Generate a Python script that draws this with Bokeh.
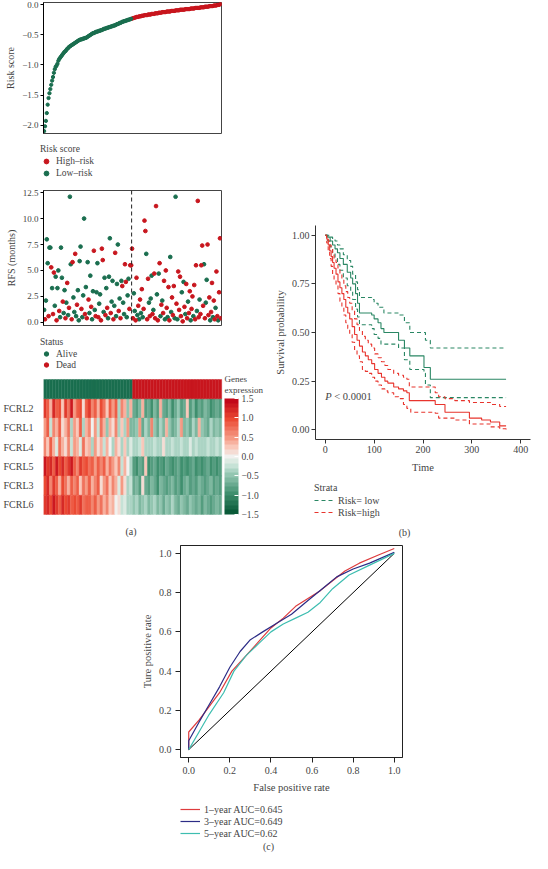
from bokeh.plotting import figure
from bokeh.layouts import column, row
from bokeh.models import (ColumnDataSource, Legend, LegendItem, Span, ColorBar, LinearColorMapper,
                          FixedTicker, Label, NumeralTickFormatter, Plot)
from bokeh.embed import file_html
from bokeh.resources import INLINE

FONT = "Liberation Serif"
NAN = float("nan")

# ---------------- data ----------------
risk_low = [-2.10, -2.02, -1.93, -1.80, -1.66, -1.55, -1.47, -1.40, -1.33, -1.26,
            -1.20, -1.13, -1.07, -1.03, -1.01, -0.98, -0.93, -0.90, -0.88, -0.86,
            -0.84, -0.82, -0.80, -0.78, -0.77, -0.75, -0.73, -0.72, -0.70, -0.69,
            -0.68, -0.67, -0.66, -0.65, -0.64, -0.63, -0.62, -0.61, -0.60, -0.59,
            -0.58, -0.58, -0.57, -0.57, -0.56, -0.56, -0.55, -0.55, -0.54, -0.53,
            -0.52, -0.51, -0.50, -0.49, -0.48, -0.47, -0.47, -0.46, -0.45, -0.45,
            -0.44, -0.44, -0.43, -0.43, -0.42, -0.42, -0.41, -0.40, -0.40, -0.39,
            -0.39, -0.38, -0.38, -0.37, -0.37, -0.36, -0.36, -0.35, -0.35, -0.34,
            -0.34, -0.33, -0.32, -0.32, -0.31, -0.30, -0.30, -0.29, -0.28, -0.28,
            -0.27, -0.27, -0.26, -0.26, -0.25, -0.25, -0.24, -0.24, -0.23]
risk_high = [-0.23, -0.22, -0.22, -0.21, -0.21, -0.20, -0.20, -0.20, -0.19, -0.19, -0.19,
             -0.18, -0.18, -0.18, -0.17, -0.17, -0.17, -0.17, -0.16, -0.16, -0.16,
             -0.16, -0.15, -0.15, -0.15, -0.15, -0.14, -0.14, -0.14, -0.14, -0.13,
             -0.13, -0.13, -0.13, -0.12, -0.12, -0.12, -0.12, -0.12, -0.11, -0.11,
             -0.11, -0.11, -0.11, -0.10, -0.10, -0.10, -0.10, -0.10, -0.09, -0.09,
             -0.09, -0.09, -0.09, -0.08, -0.08, -0.08, -0.08, -0.08, -0.08, -0.07,
             -0.07, -0.07, -0.07, -0.07, -0.07, -0.06, -0.06, -0.06, -0.06, -0.06,
             -0.05, -0.05, -0.05, -0.05, -0.05, -0.05, -0.04, -0.04, -0.04, -0.04,
             -0.04, -0.03, -0.03, -0.03, -0.03, -0.03, -0.02, -0.02, -0.02, -0.02,
             -0.02, -0.01, -0.01, -0.01, -0.01, 0.00, 0.00, 0.00, 0.01, 0.02]

rfs_months = [1.2, 0.3, 2.1, 8.0, 5.7, 0.6, 7.2, 7.2, 5.3, 3.3,
              0.8, 4.8, 1.6, 4.4, 0.2, 3.3, 5.0, 1.1, 0.5, 7.2,
              4.3, 2.0, 0.9, 3.1, 0.4, 1.9, 3.8, 0.7, 1.4, 12.1,
              5.6, 0.3, 5.8, 2.4, 1.0, 6.6, 0.6, 1.7, 3.1, 0.2,
              5.9, 7.3, 1.3, 0.5, 2.6, 10.0, 0.8, 3.4, 0.4, 5.8,
              2.2, 0.9, 4.5, 1.5, 0.3, 3.0, 6.9, 1.2, 0.6, 2.9,
              5.7, 0.5, 1.8, 2.7, 0.2, 7.1, 6.0, 1.0, 4.3, 0.7,
              3.3, 1.4, 0.4, 4.4, 8.1, 0.9, 2.0, 4.0, 0.3, 1.6,
              6.7, 0.6, 3.7, 7.5, 1.1, 2.3, 0.4, 4.0, 3.5, 1.9,
              0.8, 5.6, 3.9, 0.5, 2.6, 4.2, 1.3, 5.5, 5.5, 7.1,
              0.4, 2.8, 1.1, 0.2, 4.3, 0.7, 1.6, 0.3, 2.2, 0.9,
              3.2, 0.5, 1.3, 9.8, 8.8, 6.6, 0.3, 4.2, 1.9, 0.6,
              2.3, 4.5, 0.8, 1.2, 4.7, 0.4, 11.2, 2.7, 0.2, 4.7,
              5.7, 0.6, 1.7, 2.1, 0.9, 4.0, 0.3, 5.0, 1.4, 0.5,
              3.4, 0.2, 6.3, 1.0, 2.4, 0.7, 3.5, 0.4, 12.1, 1.8,
              0.3, 4.9, 1.2, 4.4, 0.6, 2.9, 0.1, 3.9, 1.5, 0.8,
              3.7, 0.4, 2.0, 0.9, 3.0, 0.2, 1.3, 2.5, 0.6, 3.6,
              0.3, 5.5, 1.1, 11.7, 0.5, 2.2, 0.8, 5.5, 7.4, 1.6,
              5.6, 0.4, 1.9, 4.1, 7.5, 0.7, 2.4, 0.2, 1.0, 3.8,
              0.5, 2.1, 0.3, 1.4, 4.9, 0.6, 0.2, 2.9, 8.1, 0.4]
# 1 = Dead, 0 = Alive
status = [0, 1, 0, 0, 0, 1, 0, 0, 1, 0,
          1, 1, 0, 0, 1, 0, 0, 1, 0, 0,
          0, 1, 0, 0, 1, 0, 1, 0, 1, 0,
          0, 1, 1, 0, 0, 1, 0, 1, 0, 0,
          0, 0, 1, 0, 0, 0, 1, 0, 1, 0,
          1, 0, 0, 1, 0, 0, 1, 0, 1, 0,
          0, 1, 0, 0, 1, 1, 1, 0, 0, 1,
          0, 1, 0, 0, 0, 1, 0, 0, 1, 0,
          1, 0, 0, 0, 1, 0, 1, 0, 1, 0,
          0, 1, 1, 0, 0, 0, 1, 1, 1, 1,
          1, 0, 0, 1, 1, 0, 1, 0, 1, 0,
          1, 0, 1, 1, 1, 0, 1, 1, 0, 1,
          0, 0, 1, 0, 1, 1, 1, 0, 1, 0,
          1, 0, 1, 0, 1, 1, 0, 1, 1, 0,
          1, 1, 0, 0, 1, 1, 1, 0, 0, 1,
          0, 1, 1, 1, 1, 0, 1, 0, 1, 0,
          1, 1, 0, 1, 1, 0, 1, 1, 0, 1,
          1, 1, 0, 1, 1, 0, 1, 1, 1, 1,
          0, 1, 0, 0, 1, 1, 1, 0, 1, 1,
          0, 1, 1, 0, 1, 1, 0, 1, 1, 1]

genes = ["FCRL2", "FCRL1", "FCRL4", "FCRL5", "FCRL3", "FCRL6"]
heat_low_cols = 30  # heatmap columns belonging to the low-risk group (rest high-risk)
expr_FCRL2 = [1.1, 0.9, 0.3, 1.2, 0.8, 1.0, 0.2, 1.1, 0.7, 1.3, 0.5, 0.9, 1.0, 0.1, 0.8, 1.1, 0.6, 0.9, 0.3, 1.0,
              0.7, 0.2, 0.9, 0.5, 0.8, -0.3, 0.6, 0.4, -0.5, 0.3,
              -0.7, -0.8, -0.6, 0.4, -0.8, -0.7, -0.9, -0.6, -0.8, 0.3, -0.7, -0.8, -0.6, -0.9, -0.7, -0.5, -0.8,
              -0.7, 0.2, -0.8, -0.6, -0.9, -0.7, -0.8, -0.6, -0.7, -0.9, -0.8, -0.7, -0.8]
expr_FCRL1 = [0.5, 0.9, -0.2, 0.6, 0.3, 0.8, 0.1, 0.4, 0.7, -0.3, 0.5, 0.2, 0.8, -0.4, 0.3, 0.6, 0.0, 0.5, -0.2, 0.7,
              0.3, -0.5, 0.4, 0.1, 0.6, -0.4, 0.2, -0.3, 0.5, -0.6,
              -0.6, -0.5, 0.5, -0.7, -0.4, -0.6, 0.6, -0.5, -0.7, -0.4, -0.6, 0.4, -0.5, -0.7, -0.6, -0.4, 0.5,
              -0.6, -0.5, -0.7, -0.4, -0.6, 0.3, -0.5, -0.6, -0.7, -0.4, -0.6, -0.5, -0.6]
expr_FCRL4 = [0.6, 0.2, 0.8, 0.3, -0.1, 0.7, 0.4, 0.1, 0.6, -0.2, 0.5, 0.3, -0.1, 0.7, 0.2, 0.4, -0.3, 0.5, 0.1, 0.3,
              -0.2, 0.4, 0.0, -0.4, 0.3, 0.1, -0.3, 0.2, -0.4, -0.1,
              -0.3, -0.4, -0.2, 0.2, -0.3, -0.4, -0.3, -0.2, -0.4, -0.3, 0.1, -0.3, -0.4, -0.2, -0.3, -0.4, -0.2,
              -0.3, -0.4, -0.1, -0.3, -0.2, -0.4, -0.3, -0.3, -0.2, -0.4, -0.3, -0.2, -0.3]
expr_FCRL5 = [1.3, 1.1, 1.2, 0.9, 1.3, 1.0, 1.2, 0.8, 1.1, 1.3, 0.9, 0.6, 1.1, 0.8, 1.0, 0.7, 0.9, 0.5, 0.8, 0.6,
              0.9, 0.3, 0.7, 0.5, 0.2, 0.6, -0.2, 0.3, 0.0, -0.4,
              -0.8, -0.9, -0.7, -0.8, 0.2, -0.9, -0.8, -0.7, -0.9, -0.8, -0.9, -0.7, -0.8, -0.9, -0.8, -0.7, -0.9,
              -0.8, -0.9, -0.8, -0.7, -0.9, -0.8, -0.9, -0.8, -0.7, -0.9, -0.8, -0.9, -0.8]
expr_FCRL3 = [1.0, 1.2, 0.6, 1.1, 0.8, 0.4, 1.0, 0.7, 0.3, 0.9, 0.6, 0.8, 0.2, 0.7, 0.5, 0.9, 0.3, 0.6, 0.8, 0.1,
              0.5, 0.7, 0.2, 0.6, 0.4, -0.1, 0.5, 0.1, -0.3, -0.2,
              -0.7, -0.6, -0.8, 0.1, -0.7, -0.8, -0.6, -0.7, -0.9, -0.6, -0.7, -0.8, -0.7, -0.6, -0.8, -0.7, -0.9,
              -0.7, -0.6, -0.8, -0.7, -0.8, -0.6, -0.7, -0.8, -0.7, -0.6, -0.8, -0.7, -0.8]
expr_FCRL6 = [1.1, 1.2, 1.0, 1.3, 1.1, 0.9, 1.2, 1.0, 1.1, 0.8, 1.0, 0.9, 1.1, 0.7, 0.9, 0.8, 0.6, 0.9, 0.5, 0.7,
              0.4, 0.6, 0.2, 0.3, 0.0, 0.1, -0.2, -0.1, -0.4, -0.3,
              -0.5, -0.4, -0.6, -0.5, -0.3, -0.6, -0.5, -0.4, -0.6, -0.5, -0.7, -0.5, -0.6, -0.4, -0.6, -0.7, -0.5,
              -0.6, -0.7, -0.5, -0.6, -0.7, -0.6, -0.8, -0.6, -0.7, -0.8, -0.7, -0.6, -0.7]
expr_ticks = [-1.5, -1.0, -0.5, 0.0, 0.5, 1.0, 1.5]

# Kaplan-Meier (time, survival) step points
km_low_t = [0, 5, 10, 15, 20, 25, 30, 37, 45, 52, 56, 62, 66, 70, 95, 100, 108, 114, 120, 150, 162, 173, 202, 215, 370]
km_low_s = [1.00, 0.99, 0.97, 0.95, 0.93, 0.91, 0.88, 0.85, 0.81, 0.78, 0.75, 0.70, 0.65, 0.60, 0.59, 0.57, 0.55,
            0.52, 0.50, 0.46, 0.42, 0.38, 0.32, 0.26, 0.26]
km_low_up_t = [0, 5, 10, 15, 20, 25, 30, 37, 45, 52, 56, 62, 66, 70, 95, 100, 108, 120, 150, 162, 173, 202, 205, 215, 370]
km_low_up_s = [1.00, 1.00, 0.99, 0.98, 0.97, 0.95, 0.93, 0.90, 0.87, 0.84, 0.80, 0.76, 0.72, 0.68, 0.67, 0.65, 0.63,
               0.60, 0.59, 0.55, 0.50, 0.50, 0.46, 0.42, 0.42]
km_low_lo_t = [0, 5, 10, 15, 20, 25, 30, 37, 45, 52, 56, 62, 66, 70, 95, 100, 108, 114, 150, 162, 173, 202, 205, 215, 370]
km_low_lo_s = [1.00, 0.97, 0.94, 0.91, 0.88, 0.85, 0.82, 0.78, 0.74, 0.71, 0.67, 0.62, 0.58, 0.54, 0.52, 0.49, 0.47,
               0.44, 0.42, 0.36, 0.31, 0.29, 0.23, 0.165, 0.165]
km_high_t = [0, 3, 6, 9, 12, 15, 18, 22, 26, 30, 34, 38, 42, 46, 50, 55, 60, 65, 70, 76, 82, 88, 95, 101, 108, 115,
             122, 128, 140, 150, 160, 167, 172, 225, 245, 295, 320, 338, 357, 370]
km_high_s = [1.00, 0.98, 0.95, 0.92, 0.89, 0.86, 0.83, 0.80, 0.76, 0.73, 0.70, 0.67, 0.63, 0.60, 0.57, 0.53, 0.49,
             0.46, 0.43, 0.40, 0.38, 0.36, 0.34, 0.31, 0.29, 0.27, 0.25, 0.24, 0.22, 0.21, 0.20, 0.19, 0.15, 0.13,
             0.09, 0.06, 0.05, 0.04, 0.02, 0.02]
km_high_up_t = [0, 3, 6, 9, 12, 15, 18, 22, 26, 30, 34, 38, 42, 46, 50, 55, 60, 65, 70, 76, 82, 88, 95, 101, 108,
                115, 122, 128, 140, 150, 160, 167, 172, 225, 232, 245, 265, 295, 338, 357, 370]
km_high_up_s = [1.00, 0.99, 0.97, 0.95, 0.93, 0.91, 0.88, 0.86, 0.83, 0.80, 0.77, 0.74, 0.71, 0.68, 0.65, 0.61, 0.57,
                0.54, 0.51, 0.48, 0.46, 0.44, 0.42, 0.39, 0.37, 0.35, 0.33, 0.31, 0.29, 0.28, 0.27, 0.26, 0.22,
                0.19, 0.17, 0.16, 0.15, 0.14, 0.13, 0.12, 0.12]
km_high_lo_t = [0, 3, 6, 9, 12, 15, 18, 22, 26, 30, 34, 38, 42, 46, 50, 55, 60, 65, 70, 76, 82, 88, 95, 101, 108,
                115, 122, 128, 140, 150, 160, 167, 175, 225, 232, 265, 295, 338, 357, 370]
km_high_lo_s = [1.00, 0.96, 0.92, 0.88, 0.84, 0.80, 0.77, 0.74, 0.70, 0.66, 0.63, 0.59, 0.55, 0.52, 0.49, 0.45, 0.41,
                0.38, 0.35, 0.31, 0.30, 0.29, 0.27, 0.25, 0.23, 0.21, 0.20, 0.19, 0.17, 0.16, 0.13, 0.11, 0.09,
                0.085, 0.06, 0.05, 0.03, 0.015, 0.005, 0.0]

# ROC curves
roc1_fpr = [0, 0, 0.05, 0.10, 0.15, 0.21, 0.28, 0.34, 0.40, 0.46, 0.52, 0.58, 0.64, 0.70, 0.76, 0.83, 0.92, 1.0]
roc1_tpr = [0, 0.09, 0.15, 0.22, 0.29, 0.40, 0.48, 0.55, 0.62, 0.67, 0.73, 0.77, 0.81, 0.86, 0.91, 0.95, 0.99, 1.025]
roc3_fpr = [0, 0, 0.05, 0.10, 0.15, 0.20, 0.25, 0.30, 0.36, 0.43, 0.50, 0.58, 0.65, 0.72, 0.80, 0.88, 1.0]
roc3_tpr = [0, 0.045, 0.14, 0.23, 0.32, 0.42, 0.50, 0.56, 0.60, 0.645, 0.69, 0.76, 0.82, 0.88, 0.92, 0.95, 1.005]
roc5_fpr = [0, 0.05, 0.10, 0.17, 0.22, 0.28, 0.34, 0.40, 0.46, 0.52, 0.58, 0.64, 0.70, 0.78, 0.88, 1.0]
roc5_tpr = [0, 0.09, 0.18, 0.29, 0.40, 0.48, 0.54, 0.60, 0.64, 0.67, 0.70, 0.75, 0.82, 0.89, 0.94, 1.0]
roc_labels = ["1\u2013year AUC=0.645", "3\u2013year AUC=0.649", "5\u2013year AUC=0.62"]

# ---------------- styles ----------------
GREEN = "#1A6E4F"
RED = "#C8161E"
KM_GREEN = "#2A8764"
KM_RED = "#E8342D"
ROC_COLORS = ["#DE3B3D", "#2C2C86", "#3DBDB0"]
MINUS = "\u2212"
LEFT_W, RIGHT_W, TOTAL_W = 264, 268, 532
HAS_ALIGN = "frame_align" in Plot.properties()


def free_frame(f):
    if HAS_ALIGN:
        f.frame_align = False
    return f


def style_axis(ax, size="9px"):
    ax.major_label_text_font = FONT
    ax.major_label_text_font_size = size
    ax.axis_label_text_font = FONT
    ax.axis_label_text_font_size = "10px"
    ax.axis_label_text_font_style = "normal"
    ax.major_tick_in = 0
    ax.major_tick_out = 3
    ax.minor_tick_line_color = None
    ax.major_label_standoff = 2
    ax.axis_label_standoff = 3


def blank_fig(w, h):
    f = figure(width=w, height=h, x_range=(0, 1), y_range=(0, 1), output_backend="svg",
               toolbar_location=None, x_axis_location=None, y_axis_location=None, min_border=0,
               min_border_left=0, min_border_right=0, min_border_top=0, min_border_bottom=0)
    f.grid.visible = False
    f.outline_line_color = None
    return free_frame(f)


def make_legend(items, title, loc, size="9.5px", lh=12, gw=12):
    lg = Legend(items=items, title=title, location=loc, orientation="vertical")
    lg.label_text_font = FONT
    lg.label_text_font_size = size
    lg.title_text_font = FONT
    lg.title_text_font_size = size
    lg.title_text_font_style = "normal"
    lg.title_standoff = 1
    lg.glyph_width = gw
    lg.glyph_height = lh
    lg.label_height = lh
    lg.label_standoff = 4
    lg.spacing = 0
    lg.padding = 0
    lg.margin = 0
    lg.border_line_color = None
    lg.background_fill_alpha = 0
    return lg


def caption(text, x, y):
    return Label(x=x, y=y, x_units="screen", y_units="screen", text=text, text_font=FONT,
                 text_font_size="10px", text_align="center", text_baseline="middle")


n_low = len(risk_low)
n_all = n_low + len(risk_high)
idx_low = list(range(1, n_low + 1))
idx_high = list(range(n_low + 1, n_all + 1))
LFRAME = 42   # left edge of the left-column frames
RFRAME = 43   # right border of the left-column frames

# ---------------- panel a1: risk score ----------------
p1 = figure(width=LEFT_W, height=140, x_range=(0.3, n_all + 0.7), y_range=(-2.14, 0.04),
            output_backend="svg", toolbar_location=None, x_axis_location=None,
            min_border_left=LFRAME, min_border_right=RFRAME, min_border_top=2, min_border_bottom=7)
p1.grid.visible = False
p1.outline_line_color = "#444444"
p1.scatter(idx_high, risk_high, size=3.3, color=RED)
p1.scatter(idx_low, risk_low, size=3.3, color=GREEN)
p1.yaxis.axis_label = "Risk score"
p1.yaxis.ticker = FixedTicker(ticks=[-2.0, -1.5, -1.0, -0.5, 0.0])
p1.yaxis.major_label_overrides = {-2.0: MINUS + "2.0", -1.5: MINUS + "1.5", -1.0: MINUS + "1.0",
                                  -0.5: MINUS + "0.5", 0.0: "0.0"}
style_axis(p1.yaxis[0])

# legend strip for risk score (key glyphs only, no data)
l1 = blank_fig(LEFT_W, 45)
k_hi = l1.scatter(x=[NAN], y=[NAN], size=6, color=RED)
k_lo = l1.scatter(x=[NAN], y=[NAN], size=6, color=GREEN)
l1.add_layout(make_legend([LegendItem(label="High\u2013risk", renderers=[k_hi]),
                           LegendItem(label="Low\u2013risk", renderers=[k_lo])], "Risk score",
                          (LFRAME - 2, 6)))

# ---------------- panel a2: RFS ----------------
t_alive = [i + 1 for i, s in enumerate(status) if s == 0]
y_alive = [rfs_months[i] for i, s in enumerate(status) if s == 0]
t_dead = [i + 1 for i, s in enumerate(status) if s == 1]
y_dead = [rfs_months[i] for i, s in enumerate(status) if s == 1]

p2 = figure(width=LEFT_W, height=145, x_range=(0.3, n_all + 0.7), y_range=(-0.3, 12.7),
            output_backend="svg", toolbar_location=None, x_axis_location=None,
            min_border_left=LFRAME, min_border_right=RFRAME, min_border_top=5, min_border_bottom=5)
p2.grid.visible = False
p2.outline_line_color = "#444444"
p2.scatter(t_alive, y_alive, size=3.7, color=GREEN)
p2.scatter(t_dead, y_dead, size=3.7, color=RED)
p2.add_layout(Span(location=n_low + 0.5, dimension="height", line_dash="4 3", line_color="#222222",
                   line_width=1))
p2.yaxis.axis_label = "RFS (months)"
p2.yaxis.ticker = FixedTicker(ticks=[0, 2.5, 5, 7.5, 10, 12.5])
p2.yaxis.formatter = NumeralTickFormatter(format="0.0")
style_axis(p2.yaxis[0])

l2 = blank_fig(LEFT_W, 42)
k_alive = l2.scatter(x=[NAN], y=[NAN], size=6, color=GREEN)
k_dead = l2.scatter(x=[NAN], y=[NAN], size=6, color=RED)
l2.add_layout(make_legend([LegendItem(label="Alive", renderers=[k_alive]),
                           LegendItem(label="Dead", renderers=[k_dead])], "Status", (LFRAME - 2, 2), lh=11))


# ---------------- panel a3: heatmap ----------------
def interp_palette(anchors, n):
    out = []
    for k in range(n):
        v = anchors[0][0] + (anchors[-1][0] - anchors[0][0]) * k / (n - 1)
        for j in range(len(anchors) - 1):
            a0, c0 = anchors[j]
            a1, c1 = anchors[j + 1]
            if a0 <= v <= a1:
                f = (v - a0) / (a1 - a0) if a1 > a0 else 0
                rgb0 = [int(c0[i:i + 2], 16) for i in (1, 3, 5)]
                rgb1 = [int(c1[i:i + 2], 16) for i in (1, 3, 5)]
                rgb = [round(rgb0[i] + (rgb1[i] - rgb0[i]) * f) for i in range(3)]
                out.append("#%02x%02x%02x" % tuple(rgb))
                break
    return out


palette = interp_palette([(-1.5, "#0A5A38"), (-1.0, "#3F8F6E"), (-0.5, "#93C6B1"), (-0.25, "#C6E2D6"),
                          (0.0, "#F1F1EF"), (0.25, "#F9C8BA"), (0.5, "#F59A84"), (1.0, "#EB4A33"),
                          (1.5, "#C2081A")], 25)
mapper = LinearColorMapper(palette=palette, low=-1.5, high=1.5)

expr = {"FCRL2": expr_FCRL2, "FCRL1": expr_FCRL1, "FCRL4": expr_FCRL4,
        "FCRL5": expr_FCRL5, "FCRL3": expr_FCRL3, "FCRL6": expr_FCRL6}
n_cols = len(expr_FCRL2)
n_rows = len(genes)
hx, hy, hv = [], [], []
for k, g in enumerate(genes):
    for c, v in enumerate(expr[g]):
        hx.append(c + 0.5)
        hy.append(n_rows - k - 0.5)
        hv.append(v)
heat_src = ColumnDataSource(dict(x=hx, y=hy, v=hv))
ann_x = [c + 0.5 for c in range(n_cols)]
ann_c = [GREEN if c < heat_low_cols else RED for c in range(n_cols)]

# frame geometry (pixels): cells span the same width as the panels above; the frame is
# extended to the right/top/bottom (no outline) so the colour key, its title and the caption sit inside it.
H_CELLS_PX = LEFT_W - RFRAME - LFRAME
ROW_PX, H_TOP_PAD, H_BOT_PAD = 19.3, 6, 26
heat_h = 168
p3 = figure(width=LEFT_W, height=heat_h,
            x_range=(0, n_cols * (LEFT_W - LFRAME) / H_CELLS_PX),
            y_range=(-H_BOT_PAD / ROW_PX, n_rows + 1 + H_TOP_PAD / ROW_PX),
            output_backend="svg", toolbar_location=None, x_axis_location=None,
            min_border_left=LFRAME, min_border_right=0, min_border_top=1, min_border_bottom=0)
free_frame(p3)
p3.grid.visible = False
p3.outline_line_color = None
p3.rect(x="x", y="y", width=1, height=1, source=heat_src,
        fill_color={"field": "v", "transform": mapper},
        line_color={"field": "v", "transform": mapper}, line_width=0.4)
p3.rect(x=ann_x, y=[n_rows + 0.5] * n_cols, width=1, height=1, fill_color=ann_c, line_color=ann_c,
        line_width=0.4)
p3.yaxis.ticker = FixedTicker(ticks=[n_rows - k - 0.5 for k in range(n_rows)])
p3.yaxis.major_label_overrides = {n_rows - k - 0.5: g for k, g in enumerate(genes)}
p3.yaxis.axis_line_color = None
p3.yaxis.major_tick_line_color = None
p3.yaxis.minor_tick_line_color = None
p3.yaxis.major_label_text_font = FONT
p3.yaxis.major_label_text_font_size = "10px"
p3.yaxis.major_label_standoff = 4
cb = ColorBar(color_mapper=mapper, ticker=FixedTicker(ticks=expr_ticks), width=14, height=116,
              major_label_overrides={t: (MINUS + "%.1f" % -t if t < 0 else "%.1f" % t) for t in expr_ticks},
              major_label_text_font=FONT, major_label_text_font_size="9.5px",
              major_tick_line_color="white", major_tick_in=4, major_tick_out=0, label_standoff=3,
              bar_line_color=None, margin=0, padding=0, background_fill_alpha=0, border_line_color=None,
              location=(H_CELLS_PX + 2, H_BOT_PAD))
p3.add_layout(cb)
p3.add_layout(Label(x=H_CELLS_PX + 2, y=heat_h - 1, x_units="screen", y_units="screen",
                    text="Genes\nexpression", text_font=FONT, text_font_size="9px",
                    text_baseline="top", text_align="left", text_line_height=1.15))
p3.add_layout(caption("(a)", H_CELLS_PX / 2 - 2, 9))

# ---------------- panel b: Kaplan-Meier ----------------
KM_L = 51
p4 = figure(width=RIGHT_W, height=475, x_range=(-20, 420), y_range=(-0.05, 1.05),
            output_backend="svg", toolbar_location=None,
            min_border_left=KM_L, min_border_right=2, min_border_top=225, min_border_bottom=36)
p4.grid.visible = False
p4.outline_line_color = None
lw = 1.1
p4.step(km_low_up_t, km_low_up_s, mode="after", line_color=KM_GREEN, line_dash="4 3", line_width=lw)
p4.step(km_low_lo_t, km_low_lo_s, mode="after", line_color=KM_GREEN, line_dash="4 3", line_width=lw)
p4.step(km_high_up_t, km_high_up_s, mode="after", line_color=KM_RED, line_dash="4 3", line_width=lw)
p4.step(km_high_lo_t, km_high_lo_s, mode="after", line_color=KM_RED, line_dash="4 3", line_width=lw)
p4.step(km_low_t, km_low_s, mode="after", line_color=KM_GREEN, line_width=lw)
p4.step(km_high_t, km_high_s, mode="after", line_color=KM_RED, line_width=lw)
p4.xaxis.ticker = FixedTicker(ticks=[0, 100, 200, 300, 400])
p4.yaxis.ticker = FixedTicker(ticks=[0, 0.25, 0.5, 0.75, 1.0])
p4.yaxis.formatter = NumeralTickFormatter(format="0.00")
p4.xaxis.axis_label = "Time"
p4.yaxis.axis_label = "Survival probability"
for ax in (p4.xaxis[0], p4.yaxis[0]):
    style_axis(ax, "10px")
    ax.axis_label_text_font_size = "10.5px"
    ax.axis_line_color = "#333333"
    ax.major_tick_line_color = "#333333"
    ax.major_tick_out = 4
p4.xaxis.axis_label_standoff = 6
p4.add_layout(Label(x=0, y=0.17, text="P", text_font=FONT, text_font_size="10.5px", text_font_style="italic",
                    text_baseline="middle"))
p4.add_layout(Label(x=0, y=0.17, x_offset=9, text="< 0.0001", text_font=FONT, text_font_size="10.5px",
                    text_baseline="middle"))

l4 = blank_fig(RIGHT_W, 65)
k_low = l4.line(x=[NAN, NAN], y=[NAN, NAN], line_color=KM_GREEN, line_dash="4 3", line_width=lw)
k_high = l4.line(x=[NAN, NAN], y=[NAN, NAN], line_color=KM_RED, line_dash="4 3", line_width=lw)
l4.add_layout(make_legend([LegendItem(label="Risk= low", renderers=[k_low]),
                           LegendItem(label="Risk=high", renderers=[k_high])], "Strata", (KM_L - 1, 22),
                          "10px", gw=20))
l4.add_layout(caption("(b)", 140, 8))

# ---------------- panel c: ROC ----------------
ROC_L = 180
p5 = figure(width=TOTAL_W, height=260, x_range=(-0.04, 1.04), y_range=(-0.04, 1.04),
            output_backend="svg", toolbar_location=None,
            min_border_left=ROC_L, min_border_right=130, min_border_top=5, min_border_bottom=43)
p5.grid.visible = False
p5.outline_line_color = "#222222"
p5.line([0, 1], [0, 1], line_color="black", line_width=1)
for fpr, tpr, col in ((roc1_fpr, roc1_tpr, ROC_COLORS[0]), (roc3_fpr, roc3_tpr, ROC_COLORS[1]),
                      (roc5_fpr, roc5_tpr, ROC_COLORS[2])):
    p5.line(fpr, tpr, line_color=col, line_width=1.2)
p5.xaxis.ticker = FixedTicker(ticks=[0, 0.2, 0.4, 0.6, 0.8, 1.0])
p5.yaxis.ticker = FixedTicker(ticks=[0, 0.2, 0.4, 0.6, 0.8, 1.0])
p5.xaxis.formatter = NumeralTickFormatter(format="0.0")
p5.yaxis.formatter = NumeralTickFormatter(format="0.0")
p5.xaxis.axis_label = "False positive rate"
p5.yaxis.axis_label = "Ture positive rate"
for ax in (p5.xaxis[0], p5.yaxis[0]):
    style_axis(ax, "10px")
    ax.axis_label_text_font_size = "10.5px"
    ax.axis_line_color = "#222222"
    ax.major_tick_line_color = "#222222"
    ax.major_tick_out = 5
    ax.major_label_standoff = 4
p5.xaxis.axis_label_standoff = 5

l5 = blank_fig(TOTAL_W, 53)
k_roc = [l5.line(x=[NAN, NAN], y=[NAN, NAN], line_color=c, line_width=1.2) for c in ROC_COLORS]
l5.add_layout(make_legend([LegendItem(label=roc_labels[i], renderers=[k_roc[i]]) for i in range(3)],
                          None, (ROC_L, 14), "10px", gw=20))
l5.add_layout(caption("(c)", 268, 7))

layout = column(row(column(p1, l1, p2, l2, p3), column(p4, l4)), p5, l5)
open("out.html", "w").write(file_html(layout, INLINE))
